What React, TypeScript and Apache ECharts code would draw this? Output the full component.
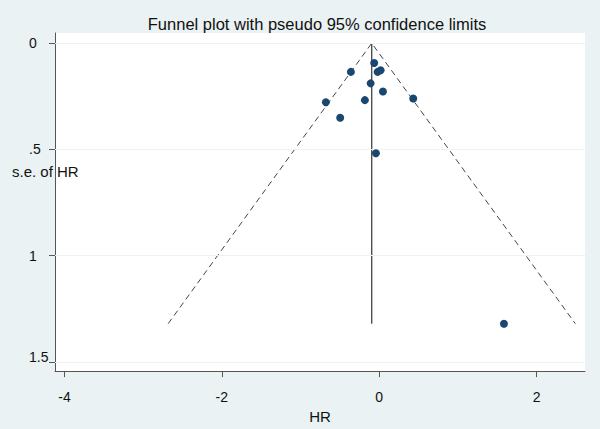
import React, { useEffect, useRef } from "react";
import * as echarts from "echarts";

// Study estimates (HR on log scale) and their standard errors
const hrValues = [-0.064, -0.36, -0.02, 0.018, -0.109, 0.047, 0.432, -0.678, -0.182, -0.496, -0.042, 1.585];
const seValues = [0.093, 0.135, 0.135, 0.127, 0.189, 0.227, 0.26, 0.278, 0.268, 0.351, 0.518, 1.32];

// Pooled estimate and maximum s.e. defining the pseudo 95% funnel
const pooledHR = -0.095;
const maxSE = 1.32;
const z95 = 1.96;

const xTicks = [-4, -2, 0, 2];
const yTicks = [0, 0.5, 1, 1.5];

const FONT = "'Liberation Sans', Arial, sans-serif";

export default function App() {
  const ref = useRef<HTMLDivElement>(null);

  useEffect(() => {
    if (!ref.current) return;
    const chart = echarts.init(ref.current, null, { renderer: "svg" });

    const points = hrValues.map((v, i) => [v, seValues[i]]);
    const limits = [
      [pooledHR - z95 * maxSE, maxSE],
      [pooledHR, 0],
      [pooledHR + z95 * maxSE, maxSE],
    ];
    const vertical = [
      [pooledHR, 0],
      [pooledHR, maxSE],
    ];

    const axisColor = "#555";

    chart.setOption({
      animation: false,
      backgroundColor: "#EAF2F3",
      textStyle: { fontFamily: FONT },
      grid: {
        left: 55,
        right: 15,
        top: 33,
        bottom: 53,
        show: true,
        backgroundColor: "#ffffff",
        borderWidth: 0,
      },
      graphic: [
        {
          type: "text",
          x: 317,
          y: 24,
          style: {
            text: "Funnel plot with pseudo 95% confidence limits",
            fontSize: 16.5,
            fontFamily: FONT,
            fill: "#111",
            textAlign: "center",
            textVerticalAlign: "middle",
          },
        },
        {
          type: "text",
          x: 12,
          y: 171,
          z: 100,
          style: {
            text: "s.e. of HR",
            fontSize: 15,
            fontFamily: FONT,
            fill: "#111",
            textAlign: "left",
            textVerticalAlign: "middle",
          },
        },
      ],
      xAxis: {
        type: "value",
        min: -4.12,
        max: 2.615,
        name: "HR",
        nameLocation: "middle",
        nameGap: 31,
        nameTextStyle: { fontSize: 15, color: "#111", fontFamily: FONT },
        axisLine: { show: true, onZero: false, lineStyle: { color: axisColor, width: 1 } },
        axisTick: {
          show: true,
          length: 6,
          customValues: xTicks,
          lineStyle: { color: axisColor },
        },
        axisLabel: {
          customValues: xTicks,
          fontSize: 14,
          color: "#111",
          margin: 19,
          fontFamily: FONT,
        },
        splitLine: { show: false },
      },
      yAxis: {
        type: "value",
        inverse: true,
        min: -0.048,
        max: 1.543,
        axisLine: { show: true, onZero: false, lineStyle: { color: axisColor, width: 1 } },
        axisTick: {
          show: true,
          length: 6,
          customValues: yTicks,
          lineStyle: { color: axisColor },
        },
        axisLabel: {
          customValues: yTicks,
          fontSize: 14,
          color: "#111",
          align: "left",
          margin: 26,
          fontFamily: FONT,
          formatter: (v: number) => {
            if (v === 0.5) return ".5";
            if (v === 1.5) return "{up|1.5}";
            return String(v);
          },
          rich: {
            up: { fontSize: 14, color: "#111", fontFamily: FONT, padding: [0, 0, 10, 0] },
          },
        },
        splitLine: { show: false },
      },
      series: [
        {
          type: "line",
          name: "grid",
          data: [],
          silent: true,
          z: 1,
          markLine: {
            silent: true,
            symbol: ["none", "none"],
            label: { show: false },
            lineStyle: { color: "#EDF3F4", width: 1, type: "solid" },
            data: yTicks.map((t) => ({ yAxis: t })),
          },
        },
        {
          type: "line",
          name: "limits",
          data: limits,
          symbol: "none",
          z: 3,
          lineStyle: { color: "#444", width: 1, type: [6, 4] },
        },
        {
          type: "line",
          name: "pooled",
          data: vertical,
          symbol: "none",
          z: 3,
          lineStyle: { color: "#333", width: 1.2, type: "solid" },
        },
        {
          type: "scatter",
          name: "studies",
          data: points,
          symbol: "circle",
          symbolSize: 8,
          z: 5,
          itemStyle: { color: "#1A476F", opacity: 1 },
        },
      ],
    });

    return () => chart.dispose();
  }, []);

  return (
    <div
      ref={ref}
      style={{ position: "fixed", left: 0, top: 0, width: 600, height: 429 }}
    />
  );
}
